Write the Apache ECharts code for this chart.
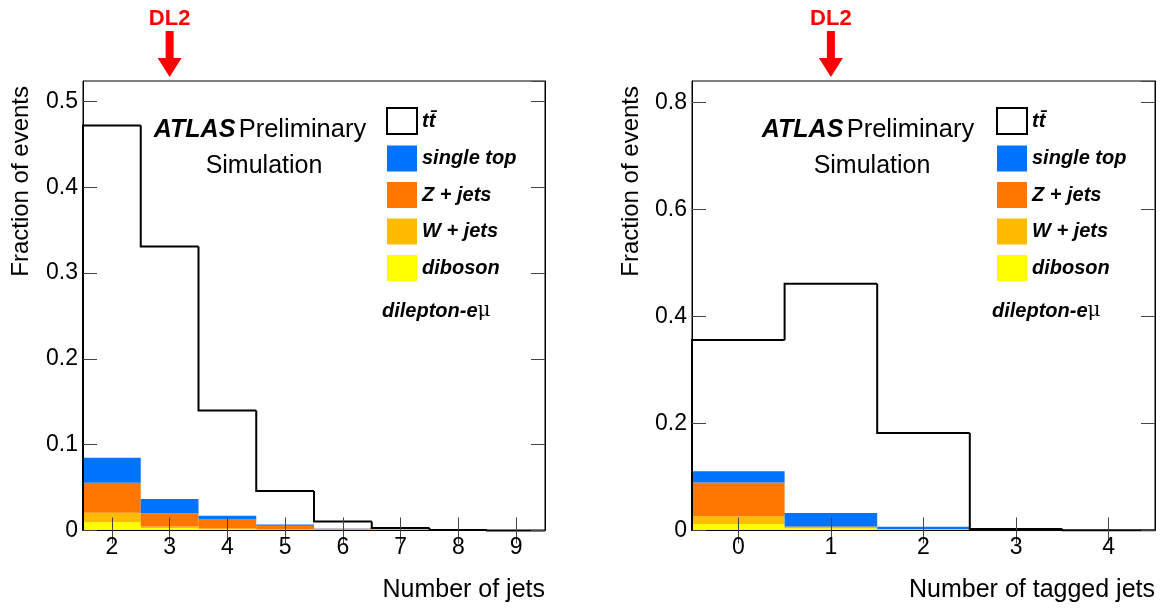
<!DOCTYPE html>
<html>
<head>
<meta charset="utf-8">
<script src="https://cdn.jsdelivr.net/npm/echarts@6/dist/echarts.min.js"></script>
<style>
  html, body { margin: 0; padding: 0; background: #fff; }
  #chart { width: 1163px; height: 611px; }
</style>
</head>
<body>
<div id="chart"></div>
<script>
// bins
const nJets = ['2', '3', '4', '5', '6', '7', '8', '9']
const nTags = ['0', '1', '2', '3', '4']
// DL2 cut positions
const dlJets = '3'
const dlTags = '1'

// fractions of events, number of jets
const jetsTtbar = [0.472, 0.331, 0.140, 0.046, 0.0105, 0.003, 0.0006, 0.0001]
const jetsSingleTop = [0.029, 0.0164, 0.0043, 0.0015, 0.0003, 0.0001, 0, 0]
const jetsZJets = [0.035, 0.0155, 0.0106, 0.0042, 0.0008, 0.0002, 0, 0]
const jetsWJets = [0.011, 0.0017, 0.0008, 0.0005, 0.0008, 0.0003, 0, 0]
const jetsDiboson = [0.0097, 0.003, 0.0015, 0.0008, 0.0004, 0.0008, 0, 0]

// fractions of events, number of tagged jets
const tagsTtbar = [0.356, 0.461, 0.182, 0.003, 0.0005]
const tagsSingleTop = [0.021, 0.025, 0.004, 0.0001, 0]
const tagsZJets = [0.063, 0.002, 0.0005, 0, 0]
const tagsWJets = [0.0145, 0.0015, 0.0005, 0, 0]
const tagsDiboson = [0.012, 0.004, 0.002, 0, 0]

const TT = 't' + 't\u0304'
const FONT = 'Liberation Sans, Arial, Helvetica, sans-serif'
const colors = { st: '#0073ff', z: '#ff7700', w: '#ffbb00', vv: '#ffff00' }

const chart = echarts.init(document.getElementById('chart'))

// step outline of the ttbar histogram
const stepItem = (params, api) => {
  const i = api.value(0)
  const p = api.coord([i, api.value(1)])
  const w = api.size([1, 0])[0]
  const yPrev = api.coord([i, api.value(2)])[1]
  const xl = p[0] - w / 2, xr = p[0] + w / 2
  const pts = [[xl, yPrev], [xl, p[1]], [xr, p[1]]]
  if (api.value(3)) pts.push([xr, api.coord([i, 0])[1]])
  return { type: 'polyline', shape: { points: pts }, style: { stroke: '#000', lineWidth: 2, fill: null } }
}
const stepData = vals => vals.map((v, i) => [i, v, i ? vals[i - 1] : 0, i === vals.length - 1 ? 1 : 0])

const tick = len => ({ show: true, inside: true, length: len, alignWithLabel: true, lineStyle: { color: '#444' } })
const line = { show: true, lineStyle: { color: '#000', width: 1 } }

const xAx = (grid, data, pos) => ({
  type: 'category', gridIndex: grid, data, position: pos, boundaryGap: true, z: 5,
  axisLine: line, axisTick: tick(13),
  axisLabel: { show: pos === 'bottom', fontSize: 23, color: '#000', fontFamily: FONT, margin: 6 },
  splitLine: { show: false }
})
const yAx = (grid, max, step, pos) => ({
  type: 'value', gridIndex: grid, min: 0, max, interval: step, position: pos, z: 5,
  axisLine: line, axisTick: tick(14),
  axisLabel: {
    show: pos === 'left', showMaxLabel: false, fontSize: 23, color: '#000', fontFamily: FONT, margin: 5,
    formatter: v => v === 0 ? '0' : v.toFixed(1)
  },
  splitLine: { show: false }
})

const bars = (x, y, vals, name, color) => ({
  name, type: 'bar', xAxisIndex: x, yAxisIndex: y, stack: 'bkg' + x, data: vals,
  barWidth: '100%', barCategoryGap: '0%', itemStyle: { color }, z: 2
})

const legendData = [
  { name: TT, itemStyle: { color: '#fff', borderColor: '#000', borderWidth: 2 } },
  'single top', 'Z + jets', 'W + jets', 'diboson'
]
const legend = left => ({
  left, top: 107, orient: 'vertical', padding: 0, itemWidth: 30, itemHeight: 26, itemGap: 10.5,
  icon: 'rect', selectedMode: false, data: legendData,
  textStyle: { fontSize: 20, fontWeight: 'bold', fontStyle: 'italic', fontFamily: FONT, color: '#000' }
})

chart.setOption({
  backgroundColor: '#fff',
  animation: false,
  grid: [
    { left: 83, top: 81, width: 462, height: 449.5, show: true, borderColor: '#000', borderWidth: 1 },
    { left: 692, top: 81, width: 463, height: 449.5, show: true, borderColor: '#000', borderWidth: 1 }
  ],
  xAxis: [xAx(0, nJets, 'bottom'), xAx(0, nJets, 'top'), xAx(1, nTags, 'bottom'), xAx(1, nTags, 'top')],
  yAxis: [yAx(0, 0.524, 0.1, 'left'), yAx(0, 0.524, 0.1, 'right'), yAx(1, 0.84, 0.2, 'left'), yAx(1, 0.84, 0.2, 'right')],
  legend: [legend(386), legend(996)],
  series: [
    bars(0, 0, jetsDiboson, 'diboson', colors.vv),
    bars(0, 0, jetsWJets, 'W + jets', colors.w),
    bars(0, 0, jetsZJets, 'Z + jets', colors.z),
    bars(0, 0, jetsSingleTop, 'single top', colors.st),
    { name: TT, type: 'custom', xAxisIndex: 0, yAxisIndex: 0, renderItem: stepItem, data: stepData(jetsTtbar), z: 3, itemStyle: { color: '#fff' } },
    bars(2, 2, tagsDiboson, 'diboson', colors.vv),
    bars(2, 2, tagsWJets, 'W + jets', colors.w),
    bars(2, 2, tagsZJets, 'Z + jets', colors.z),
    bars(2, 2, tagsSingleTop, 'single top', colors.st),
    { name: TT, type: 'custom', xAxisIndex: 2, yAxisIndex: 2, renderItem: stepItem, data: stepData(tagsTtbar), z: 3, itemStyle: { color: '#fff' } }
  ]
})

// texts and DL2 arrows
const txt = (x, y, text, extra, rotation) => ({
  type: 'text', x, y, z: 10, rotation: rotation || 0,
  style: Object.assign({ text, fill: '#000', font: '25px ' + FONT, align: 'center', verticalAlign: 'middle' }, extra)
})
const atlas = (cx) => [
  {
    type: 'text', x: cx, y: 130, z: 10,
    style: {
      text: '{a|ATLAS} {p|Preliminary}', align: 'center', verticalAlign: 'middle', fill: '#000',
      rich: {
        a: { fontSize: 25, fontWeight: 'bold', fontStyle: 'italic', fontFamily: FONT },
        p: { fontSize: 25.5, fontFamily: FONT }
      }
    }
  },
  txt(cx + 4, 166, 'Simulation')
]
const channel = x => ({
  type: 'text', x, y: 311, z: 10,
  style: {
    text: '{b|dilepton-e}{m|\u03bc}', align: 'left', verticalAlign: 'middle', fill: '#000',
    rich: {
      b: { fontSize: 20, fontWeight: 'bold', fontStyle: 'italic', fontFamily: FONT },
      m: { fontSize: 20, fontFamily: 'DejaVu Serif, serif' }
    }
  }
})
const arrow = x => [
  {
    type: 'polygon', z: 10,
    shape: { points: [[x - 4, 31], [x + 4, 31], [x + 4, 58], [x + 12, 58], [x, 77], [x - 12, 58], [x - 4, 58]] },
    style: { fill: '#ff0000' }
  },
  txt(x, 19, 'DL2', { fill: '#ff0000', font: 'bold 22px ' + FONT })
]

const xJ = chart.convertToPixel({ xAxisIndex: 0 }, dlJets)
const xT = chart.convertToPixel({ xAxisIndex: 2 }, dlTags)

chart.setOption({
  graphic: [
    ...atlas(260), ...atlas(868),
    channel(382), channel(992),
    txt(21, 86, 'Fraction of events', { align: 'right', font: '24px ' + FONT }, Math.PI / 2),
    txt(631, 86, 'Fraction of events', { align: 'right', font: '24px ' + FONT }, Math.PI / 2),
    txt(545, 590, 'Number of jets', { align: 'right' }),
    txt(1155, 590, 'Number of tagged jets', { align: 'right' }),
    ...arrow(xJ), ...arrow(xT)
  ]
})
</script>
</body>
</html>
